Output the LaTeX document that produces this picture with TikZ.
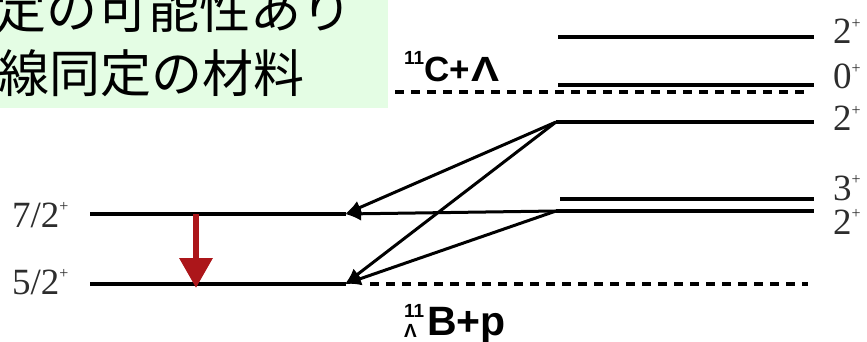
\documentclass[tikz,border=0pt]{standalone}
\usepackage{fontspec}
\setmainfont{Liberation Serif}
\newfontfamily\cjkfont{Noto Sans CJK JP}
\newfontfamily\sansf{Liberation Sans}
\usetikzlibrary{arrows.meta}
\definecolor{notegreen}{RGB}{228,253,228}
\definecolor{redarrow}{RGB}{172,22,26}
\definecolor{labgray}{RGB}{45,45,45}
\begin{document}
\begin{tikzpicture}[x=1pt,y=-1pt,
  levelline/.style={line width=4pt},
  transline/.style={line width=3pt,-{Latex[length=16pt,width=14pt]}},
  thresh/.style={line width=3.4pt,dash pattern=on 9pt off 7pt},
  jplab/.style={font=\cjkfont\fontsize{51}{51}\selectfont,inner sep=0pt,anchor=base east},
  jlab/.style={font=\fontsize{37}{37}\selectfont,text=labgray,inner sep=0pt,anchor=base west},
  nuclab/.style={font=\sansf\bfseries,inner sep=0pt,anchor=base west}]
\useasboundingbox (0,0) rectangle (867,342);
\clip (0,0) rectangle (867,342);
% note box
\fill[notegreen] (0,0) rectangle (388,108);
\node[jplab] (line1) at (353,29) {同定の可能性あり};
\node[jplab] (line2) at (305,93) {γ線同定の材料};
% level coordinates
\coordinate (a7l) at (90,214);  \coordinate (a7r) at (346,214);
\coordinate (a5l) at (90,284);  \coordinate (a5r) at (346,284);
\coordinate (t7) at (345,214);  \coordinate (t5) at (345,284);
\coordinate (c2al) at (558,37);  \coordinate (c2ar) at (814,37);
\coordinate (c0l) at (558,85);   \coordinate (c0r) at (814,85);
\coordinate (c2bl) at (556,122); \coordinate (c2br) at (814,122);
\coordinate (c3l) at (560,199);  \coordinate (c3r) at (814,199);
\coordinate (c2cl) at (556,211); \coordinate (c2cr) at (814,211);
\coordinate (thCl) at (395,92);  \coordinate (thCr) at (808,92);
\coordinate (thBl) at (370,284); \coordinate (thBr) at (808,284);
% levels
\draw[levelline] (a7l) -- (a7r);
\draw[levelline] (a5l) -- (a5r);
\draw[levelline] (c2al) -- (c2ar);
\draw[levelline] (c0l) -- (c0r);
\draw[levelline] (c2bl) -- (c2br);
\draw[levelline] (c3l) -- (c3r);
\draw[levelline] (c2cl) -- (c2cr);
\draw[thresh] (thCl) -- (thCr);
\draw[thresh] (thBl) -- (thBr);
% transitions
\draw[transline] (c2bl) -- (t7);
\draw[transline] (c2bl) -- (t5);
\draw[transline] (c2cl) -- (t7);
\draw[transline] (c2cl) -- (t5);
% red gamma
\coordinate (ra) at (196,214); \coordinate (rb) at (196,288);
\draw[redarrow,line width=6.5pt,-{Triangle[length=30pt,width=32pt]}] (ra) -- (rb);
% left labels
\node[jlab] (l72) at (12,227) {7/2\raisebox{0.42em}{\fontsize{16}{16}\selectfont +}};
\node[jlab] (l52) at (12,294) {5/2\raisebox{0.42em}{\fontsize{16}{16}\selectfont +}};
% right labels
\node[jlab] (r1) at (833,44) {2\raisebox{0.42em}{\fontsize{16}{16}\selectfont +}};
\node[jlab] (r2) at (833,89) {0\raisebox{0.42em}{\fontsize{16}{16}\selectfont +}};
\node[jlab] (r3) at (833,131) {2\raisebox{0.42em}{\fontsize{16}{16}\selectfont +}};
\node[jlab] (r4) at (833,200) {3\raisebox{0.42em}{\fontsize{16}{16}\selectfont +}};
\node[jlab] (r5) at (833,234) {2\raisebox{0.42em}{\fontsize{16}{16}\selectfont +}};
% threshold labels
\node[nuclab] (cth) at (404,82) {\fontsize{35}{35}\selectfont\raisebox{0.5em}{\fontsize{19}{19}\selectfont 11}C+\kern1pt\scalebox{1.2}[1]{Λ}};
\node[nuclab] (bth) at (404,335) {\fontsize{19}{19}\selectfont\rlap{\raisebox{-2pt}{Λ}}\rlap{\raisebox{18pt}{11}}\phantom{11}\kern3pt\fontsize{41}{41}\selectfont B+p};
\end{tikzpicture}
\end{document}
